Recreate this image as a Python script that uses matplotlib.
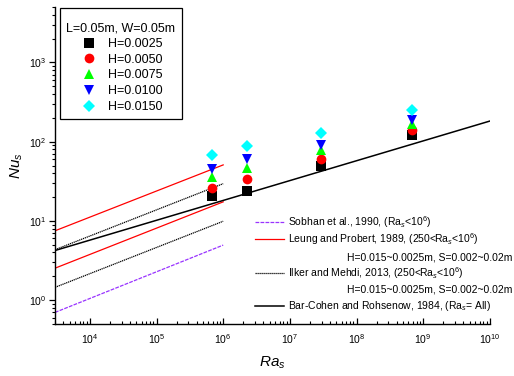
import matplotlib
matplotlib.use("Agg")
import matplotlib.pyplot as plt
from matplotlib.lines import Line2D
from matplotlib.ticker import LogLocator, NullFormatter

plt.rcParams["font.family"] = ["Liberation Sans", "DejaVu Sans"]
plt.rcParams["mathtext.fontset"] = "custom"
plt.rcParams["mathtext.rm"] = "Liberation Sans"
plt.rcParams["mathtext.it"] = "Liberation Sans:italic"

# simulation points (Ra_s, Nu_s) for each fin height
ra_points = [6.9e5, 2.3e6, 2.9e7, 6.8e8]
nu_h0025 = [20.4, 23.6, 49, 121]
nu_h0050 = [25.7, 33.5, 60, 140]
nu_h0075 = [35.5, 46, 78, 167]
nu_h0100 = [44.8, 60, 91, 188]
nu_h0150 = [67.5, 88, 128, 252]

# correlation lines (end points)
ra_short = [3e3, 1e6]
nu_sobhan = [0.70, 4.95]
nu_leung_hi = [7.5, 50.9]
nu_leung_lo = [2.53, 17.4]
nu_ilker_hi = [4.33, 29.5]
nu_ilker_lo = [1.45, 9.9]
ra_long = [3e3, 1e10]
nu_barcohen = [4.23, 182]

x_ticks = [1e4, 1e5, 1e6, 1e7, 1e8, 1e9, 1e10]
y_ticks = [1, 10, 100, 1000]
range_note = "H=0.015~0.0025m, S=0.002~0.02m"

series = [
    ("H=0.0025", nu_h0025, "s", "#000000", 6.5),
    ("H=0.0050", nu_h0050, "o", "#ff0000", 7.0),
    ("H=0.0075", nu_h0075, "^", "#00ff00", 7.5),
    ("H=0.0100", nu_h0100, "v", "#0000ff", 7.5),
    ("H=0.0150", nu_h0150, "D", "#00ffff", 6.0),
]

fig = plt.figure(figsize=(5.14, 3.76), dpi=100)
ax = fig.add_axes([0.107, 0.1383, 0.846, 0.843])

purple = "#9933ff"
l_sob, = ax.plot(ra_short, nu_sobhan, color=purple, lw=0.9, ls=(0, (3, 1)))
l_leu, = ax.plot(ra_short, nu_leung_hi, color="#ff0000", lw=0.9)
ax.plot(ra_short, nu_leung_lo, color="#ff0000", lw=0.9)
l_ilk, = ax.plot(ra_short, nu_ilker_hi, color="black", lw=0.9, ls=(0, (1, 0.6)))
ax.plot(ra_short, nu_ilker_lo, color="black", lw=0.9, ls=(0, (1, 0.6)))
l_bar, = ax.plot(ra_long, nu_barcohen, color="black", lw=1.1)

pts = []
for label, nu, marker, color, ms in series:
    h, = ax.plot(ra_points, nu, ls="none", marker=marker, color=color,
                 markersize=ms, markeredgewidth=0, label=label)
    pts.append(h)

ax.set_xscale("log")
ax.set_yscale("log")
ax.set_xlim(3e3, 1e10)
ax.set_ylim(0.5, 5000)

for s in ["top", "right"]:
    ax.spines[s].set_visible(False)
for s in ["left", "bottom"]:
    ax.spines[s].set_linewidth(1.0)

ax.set_xticks(x_ticks)
ax.set_yticks(y_ticks)
ax.xaxis.set_minor_locator(LogLocator(base=10, subs=range(2, 10), numticks=50))
ax.yaxis.set_minor_locator(LogLocator(base=10, subs=range(2, 10), numticks=50))
ax.xaxis.set_minor_formatter(NullFormatter())
ax.yaxis.set_minor_formatter(NullFormatter())
ax.tick_params(axis="x", which="major", direction="in", length=4, width=0.9,
               labelsize=7.5, pad=6)
ax.tick_params(axis="x", which="minor", direction="in", length=2.5, width=0.8)
ax.tick_params(axis="y", which="major", direction="out", length=4, width=0.9,
               labelsize=7.5, pad=2)
ax.tick_params(axis="y", which="minor", direction="out", length=2.5, width=0.8)

ax.set_xlabel("$Ra_s$", fontsize=11, labelpad=6)
ax.set_ylabel("$Nu_s$", fontsize=11, labelpad=3)

leg1 = ax.legend(handles=pts, title="\nL=0.05m, W=0.05m", loc="upper left",
                 bbox_to_anchor=(60 / 514, 1 - 8 / 376), bbox_transform=fig.transFigure,
                 borderaxespad=0, fontsize=9, title_fontsize=9, fancybox=False,
                 edgecolor="black", framealpha=1, handletextpad=0.7,
                 labelspacing=0.3, borderpad=0.5, handlelength=1.6)
leg1.get_title().set_linespacing(0.55)
leg1.get_frame().set_linewidth(0.9)
ax.add_artist(leg1)

# the two range notes sit on their own rows; keep the row height with a hidden label
blank = Line2D([], [], ls="none")
leg2_handles = [l_sob, l_leu, blank, l_ilk, blank, l_bar]
leg2_labels = [
    "Sobhan et al., 1990, (Ra$_s$<10$^6$)",
    "Leung and Probert, 1989, (250<Ra$_s$<10$^6$)",
    "(Ra$_s$<10$^6$)",
    "Ilker and Mehdi, 2013, (250<Ra$_s$<10$^6$)",
    "(Ra$_s$<10$^6$)",
    "Bar-Cohen and Rohsenow, 1984, (Ra$_s$= All)",
]
leg2 = ax.legend(leg2_handles, leg2_labels, loc="upper left",
                 bbox_to_anchor=(255 / 514, 1 - 214 / 376), bbox_transform=fig.transFigure,
                 borderaxespad=0, borderpad=0, frameon=False, fontsize=7.5,
                 handlelength=2.8, handletextpad=0.4, labelspacing=0.12)
for i in (2, 4):
    leg2.get_texts()[i].set_alpha(0)

for ypx in [257, 290]:
    fig.text(347 / 514, 1 - ypx / 376, range_note,
             fontsize=7.5, va="center", ha="left")

fig.savefig("out.png", dpi=100)
